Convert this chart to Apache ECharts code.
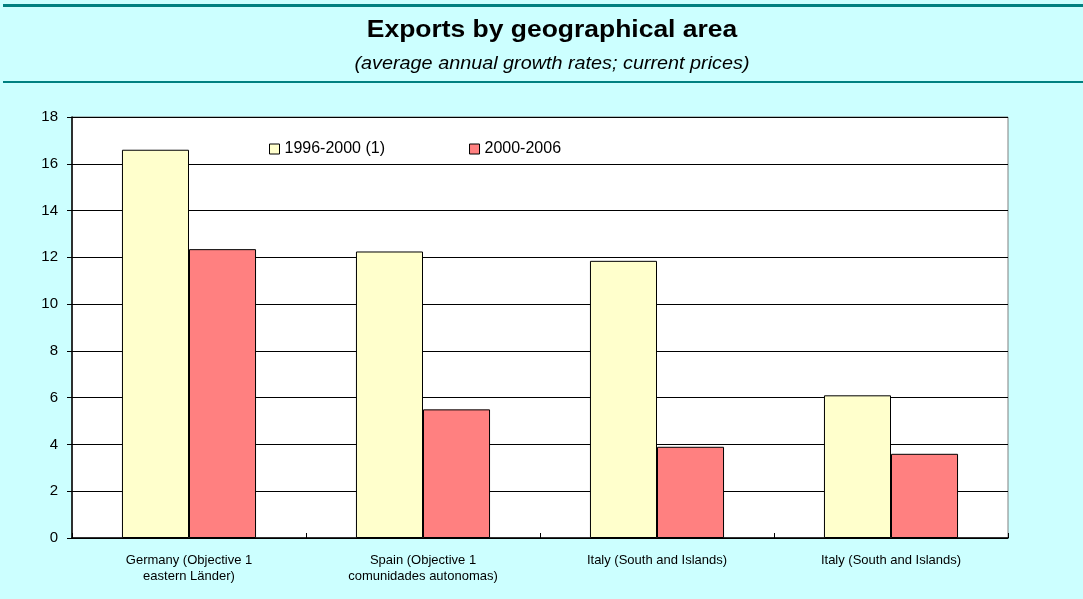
<!DOCTYPE html>
<html>
<head>
<meta charset="utf-8">
<script src="https://cdn.jsdelivr.net/npm/echarts@6/dist/echarts.min.js"></script>
<style>
  html, body { margin: 0; padding: 0; background: #CCFFFF; }
  #chart { width: 1083px; height: 599px; }
</style>
</head>
<body>
<div id="chart"></div>
<script>
// Regions shown on the category axis
const categories = [
  'Germany (Objective 1\neastern Länder)',
  'Spain (Objective 1\ncomunidades autonomas)',
  'Italy (South and Islands)',
  'Italy (South and Islands)'
];
// Average annual growth rates (%)
const growth1996_2000 = [16.6, 12.25, 11.85, 6.1];
const growth2000_2006 = [12.35, 5.5, 3.9, 3.6];
const seriesNames = ['1996-2000 (1)', '2000-2006'];
const yTicks = { min: 0, max: 18, interval: 2 };
const titleText = 'Exports by geographical area';
const subtitleText = '(average annual growth rates; current prices)';

const FONT = '"Liberation Sans", Arial, sans-serif';
const chart = echarts.init(document.getElementById('chart'), null, { renderer: 'canvas' });

chart.setOption({
  backgroundColor: '#CCFFFF',
  animation: false,
  graphic: [
    // teal rules framing the heading band
    { type: 'rect', shape: { x: 3, y: 4, width: 1080, height: 3 }, style: { fill: '#008080' }, silent: true },
    { type: 'rect', shape: { x: 3, y: 81, width: 1080, height: 2 }, style: { fill: '#008080' }, silent: true },
    // heading, drawn slightly wide
    {
      type: 'text', x: 552, y: 31, scaleX: 1.15, silent: true,
      style: {
        text: titleText, align: 'center', verticalAlign: 'middle',
        font: 'bold 23px ' + FONT, fill: '#000'
      }
    },
    {
      type: 'text', x: 552, y: 64, scaleX: 1.07, silent: true,
      style: {
        text: subtitleText, align: 'center', verticalAlign: 'middle',
        font: 'italic 18.5px ' + FONT, fill: '#000'
      }
    }
  ],
  legend: {
    left: 264,
    top: 136,
    itemGap: 84,
    itemWidth: 10,
    itemHeight: 10,
    itemStyle: { borderColor: '#000', borderWidth: 1 },
    textStyle: { fontFamily: FONT, fontSize: 16, color: '#000' },
    data: seriesNames.map(n => ({ name: n, icon: 'rect' }))
  },
  grid: {
    left: 72, top: 117, width: 936, height: 421,
    show: true, backgroundColor: '#FFFFFF', borderColor: '#808080', borderWidth: 1,
    containLabel: false
  },
  xAxis: {
    type: 'category',
    data: categories,
    axisLine: { lineStyle: { color: '#000', width: 1.5 } },
    axisTick: { show: true, inside: true, length: 5, lineStyle: { color: '#000' } },
    axisLabel: { fontFamily: FONT, fontSize: 13, color: '#000', margin: 14, lineHeight: 16, interval: 0 }
  },
  yAxis: {
    type: 'value',
    min: yTicks.min, max: yTicks.max, interval: yTicks.interval,
    axisLine: { show: true, lineStyle: { color: '#000', width: 1.5 } },
    axisTick: { show: true, length: 5, lineStyle: { color: '#000' } },
    axisLabel: { fontFamily: FONT, fontSize: 15, color: '#000', margin: 14 },
    splitLine: { show: true, lineStyle: { color: '#000', width: 1 } }
  },
  series: [
    {
      name: seriesNames[0], type: 'bar', data: growth1996_2000,
      barGap: '0%', barCategoryGap: '42.7%',
      itemStyle: { color: '#FFFFCC', borderColor: '#000', borderWidth: 1 }
    },
    {
      name: seriesNames[1], type: 'bar', data: growth2000_2006,
      barGap: '0%', barCategoryGap: '42.7%',
      itemStyle: { color: '#FF8080', borderColor: '#000', borderWidth: 1 }
    }
  ]
});
</script>
</body>
</html>
